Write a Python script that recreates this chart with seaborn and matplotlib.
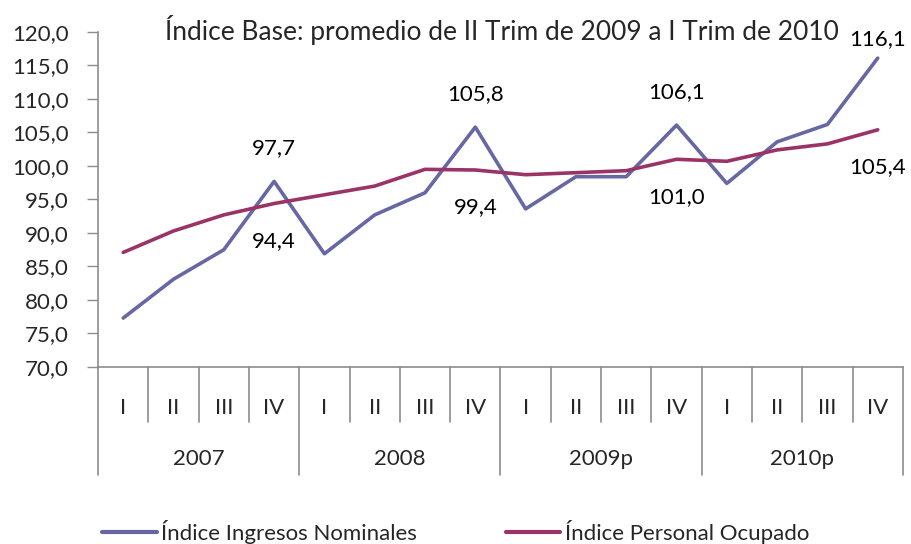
import matplotlib
matplotlib.use("Agg")
import matplotlib.pyplot as plt
import matplotlib.transforms as mtransforms
import seaborn as sns
import numpy as np
import pandas as pd

# data
years = ["2007", "2008", "2009p", "2010p"]
quarters = ["I", "II", "III", "IV"]
ingresos = [77.3, 83.1, 87.5, 97.7, 86.9, 92.7, 96.0, 105.8,
            93.6, 98.4, 98.4, 106.1, 97.4, 103.6, 106.2, 116.1]
personal = [87.1, 90.3, 92.7, 94.4, 95.7, 97.0, 99.5, 99.4,
            98.7, 99.0, 99.3, 101.0, 100.7, 102.4, 103.3, 105.4]
# points that carry a value label in the original (index into the series)
labelled = [3, 7, 11, 15]

name_ing = "Índice Ingresos Nominales"
name_per = "Índice Personal Ocupado"
col_ing = "#6767A4"
col_per = "#9B3466"

n = len(ingresos)
df = pd.DataFrame({
    "pos": list(range(n)) * 2,
    "valor": ingresos + personal,
    "serie": [name_ing] * n + [name_per] * n,
})

sns.set_style("white")
plt.rcParams["font.family"] = ["Lato", "DejaVu Sans"]
fs = 16
grey = "#8C8C8C"

fig = plt.figure(figsize=(9.12, 5.44), dpi=100)
ax = fig.add_axes([0.1075, 0.3254, 0.8825, 0.6158])

sns.lineplot(data=df, x="pos", y="valor", hue="serie",
             palette={name_ing: col_ing, name_per: col_per},
             linewidth=2.6, ax=ax, legend=False)

ax.set_xlim(-0.5, n - 0.5)
ax.set_ylim(70, 120)
ax.set_yticks(np.arange(70, 121, 5))
ax.set_yticklabels([f"{v:.1f}".replace(".", ",") for v in np.arange(70, 121, 5)], fontsize=fs)
ax.tick_params(axis="y", length=8, width=1, color=grey, pad=13, direction="out", left=True)
ax.set_xticks([])
ax.set_xlabel("")
ax.set_ylabel("")
for s in ["top", "right"]:
    ax.spines[s].set_visible(False)
for s in ["left", "bottom"]:
    ax.spines[s].set_color(grey)
    ax.spines[s].set_linewidth(1.2)

# value labels: blue above, red below (last blue one sits closer, near the top edge)
for i in labelled:
    up = 14 if i == n - 1 else 24
    ax.annotate(f"{ingresos[i]:.1f}".replace(".", ","), (i, ingresos[i]),
                xytext=(0, up), textcoords="offset points",
                ha="center", va="center", fontsize=fs, color="black")
    ax.annotate(f"{personal[i]:.1f}".replace(".", ","), (i, personal[i]),
                xytext=(0, -27), textcoords="offset points",
                ha="center", va="center", fontsize=fs, color="black")

# two-level category axis
trans = mtransforms.blended_transform_factory(ax.transData, ax.transAxes)
q_depth = -0.164
y_depth = -0.322
for k in range(n + 1):
    bottom = y_depth if k % 4 == 0 else q_depth
    ax.plot([k - 0.5, k - 0.5], [0, bottom], transform=trans,
            color=grey, linewidth=1.2, clip_on=False)
for k in range(n):
    ax.text(k, -0.122, quarters[k % 4], transform=trans,
            ha="center", va="center", fontsize=fs)
for j, yr in enumerate(years):
    ax.text(j * 4 + 1.5, -0.275, yr, transform=trans,
            ha="center", va="center", fontsize=fs)

fig.text(0.55, 0.945, "Índice Base: promedio de II Trim de 2009 a I Trim de 2010",
         ha="center", va="center", fontsize=19)

handles = [plt.Line2D([], [], color=col_ing, linewidth=3),
           plt.Line2D([], [], color=col_per, linewidth=3)]
fig.legend(handles, [name_ing, name_per], loc="center left", bbox_to_anchor=(0.112, 0.022),
           ncol=2, frameon=False, fontsize=16, handlelength=2.45, handletextpad=0.2,
           columnspacing=4.0, borderpad=0, borderaxespad=0)

fig.savefig("out.png", dpi=100)
